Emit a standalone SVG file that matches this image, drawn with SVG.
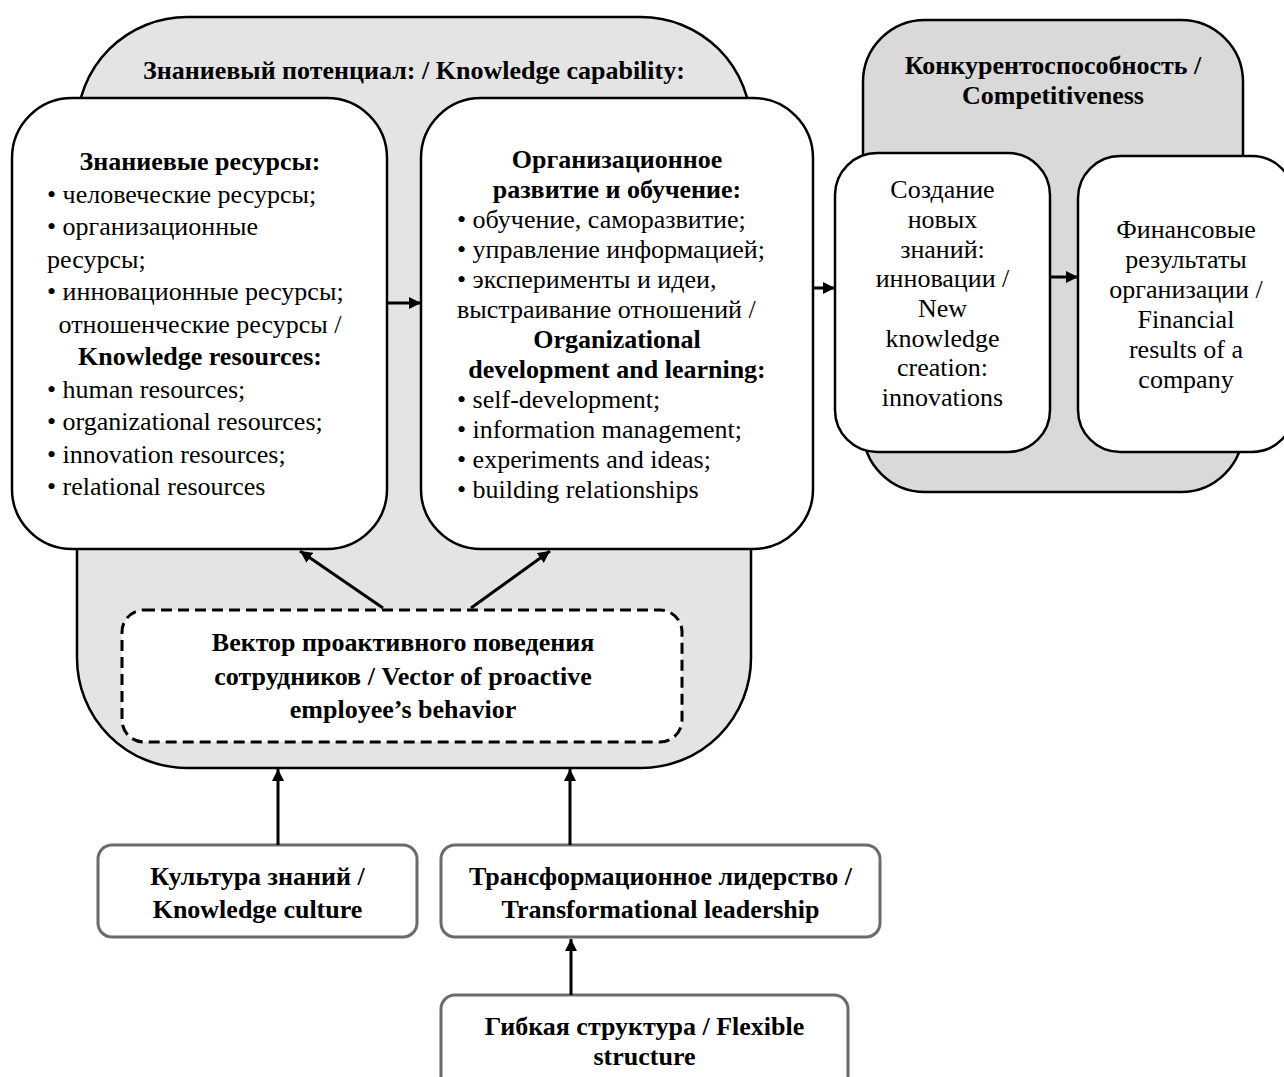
<svg xmlns="http://www.w3.org/2000/svg" width="1284" height="1077" viewBox="0 0 1284 1077">
<defs>
<style>
text{font-family:"Liberation Serif","Times New Roman",serif;font-size:26px;fill:#000}
.b{font-weight:bold}
.c{text-anchor:middle}
.wbox{fill:#fff;stroke:#000;stroke-width:2.5}
.gbox{fill:#fff;stroke:#6b6b6b;stroke-width:3}
.conn{stroke:#000;stroke-width:3;fill:none;marker-end:url(#ah)}
</style>
<marker id="ah" markerUnits="userSpaceOnUse" markerWidth="13" markerHeight="12" refX="12" refY="6" orient="auto">
<path d="M0,0 L12,6 L0,12 z" fill="#000"/>
</marker>
</defs>
<rect width="1284" height="1077" fill="#fff"/>

<g id="knowledge-capability">
<path d="M187 17 H641 A110 110 0 0 1 751 127 V658 A110 110 0 0 1 641 768 H187 A110 110 0 0 1 77 658 V127 A110 110 0 0 1 187 17 Z" fill="#e4e4e4" stroke="#000" stroke-width="2.5"/>
<text class="b c" x="414" y="79">Знаниевый потенциал: / Knowledge capability:</text>
</g>

<g id="competitiveness">
<rect x="863" y="20" width="380" height="472" rx="62" fill="#d9d9d9" stroke="#000" stroke-width="2.5"/>
<text class="b c" x="1053" y="74">Конкурентоспособность /</text>
<text class="b c" x="1053" y="104">Competitiveness</text>
</g>

<g id="knowledge-resources">
<rect class="wbox" x="12" y="98" width="375" height="451" rx="60"/>
<text class="b c" x="200" y="170">Знаниевые ресурсы:</text>
<text x="47" y="202.5">• человеческие ресурсы;</text>
<text x="47" y="235">• организационные</text>
<text x="47" y="267.5">ресурсы;</text>
<text x="47" y="300">• инновационные ресурсы;</text>
<text class="c" x="200" y="332.5">отношенческие ресурсы /</text>
<text class="b c" x="200" y="365">Knowledge resources:</text>
<text x="47" y="397.5">• human resources;</text>
<text x="47" y="430">• organizational resources;</text>
<text x="47" y="462.5">• innovation resources;</text>
<text x="47" y="495">• relational resources</text>
</g>

<g id="org-development">
<rect class="wbox" x="421" y="98" width="392" height="451" rx="60"/>
<text class="b c" x="617" y="168">Организационное</text>
<text class="b c" x="617" y="198">развитие и обучение:</text>
<text x="457" y="228">• обучение, саморазвитие;</text>
<text x="457" y="258">• управление информацией;</text>
<text x="457" y="288">• эксперименты и идеи,</text>
<text x="457" y="318">выстраивание отношений /</text>
<text class="b c" x="617" y="348">Organizational</text>
<text class="b c" x="617" y="378">development and learning:</text>
<text x="457" y="408">• self-development;</text>
<text x="457" y="438">• information management;</text>
<text x="457" y="468">• experiments and ideas;</text>
<text x="457" y="498">• building relationships</text>
</g>

<g id="new-knowledge">
<rect class="wbox" x="835" y="153" width="215" height="299" rx="42"/>
<text class="c" x="942.5" y="198">Создание</text>
<text class="c" x="942.5" y="227.5">новых</text>
<text class="c" x="942.5" y="257.5">знаний:</text>
<text class="c" x="942.5" y="287">инновации /</text>
<text class="c" x="942.5" y="316.5">New</text>
<text class="c" x="942.5" y="346.5">knowledge</text>
<text class="c" x="942.5" y="376">creation:</text>
<text class="c" x="942.5" y="405.5">innovations</text>
</g>

<g id="financial-results">
<rect class="wbox" x="1078" y="156" width="216" height="296" rx="42"/>
<text class="c" x="1186" y="238">Финансовые</text>
<text class="c" x="1186" y="268">результаты</text>
<text class="c" x="1186" y="298">организации /</text>
<text class="c" x="1186" y="328">Financial</text>
<text class="c" x="1186" y="358">results of a</text>
<text class="c" x="1186" y="388">company</text>
</g>

<g id="proactive-vector">
<rect x="122" y="610" width="560" height="132" rx="22" fill="#fff" stroke="#000" stroke-width="3" stroke-dasharray="11 6"/>
<text class="b c" x="403" y="651">Вектор проактивного поведения</text>
<text class="b c" x="403" y="685">сотрудников / Vector of proactive</text>
<text class="b c" x="403" y="718">employee’s behavior</text>
</g>

<g id="knowledge-culture">
<rect class="gbox" x="98" y="845" width="319" height="92" rx="14"/>
<text class="b c" x="257.5" y="885">Культура знаний /</text>
<text class="b c" x="257.5" y="918">Knowledge culture</text>
</g>

<g id="transformational-leadership">
<rect class="gbox" x="441" y="845" width="439" height="92" rx="14"/>
<text class="b c" x="660.5" y="885">Трансформационное лидерство /</text>
<text class="b c" x="660.5" y="918">Transformational leadership</text>
</g>

<g id="flexible-structure">
<rect class="gbox" x="441" y="995" width="407" height="100" rx="14"/>
<text class="b c" x="644.5" y="1035">Гибкая структура / Flexible</text>
<text class="b c" x="644.5" y="1065">structure</text>
</g>

<g id="connectors">
<line class="conn" x1="387" y1="303" x2="421" y2="303"/>
<line class="conn" x1="813" y1="288" x2="835" y2="288"/>
<line class="conn" x1="1050" y1="277" x2="1078" y2="277"/>
<line class="conn" x1="383" y1="608" x2="300" y2="551"/>
<line class="conn" x1="471" y1="608" x2="550" y2="551"/>
<line class="conn" x1="278" y1="845" x2="278" y2="769"/>
<line class="conn" x1="570" y1="845" x2="570" y2="769"/>
<line class="conn" x1="571" y1="995" x2="571" y2="939"/>
</g>
</svg>
